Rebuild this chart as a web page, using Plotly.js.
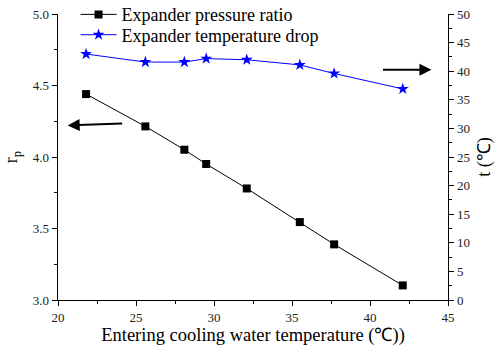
<!DOCTYPE html>
<html><head><meta charset="utf-8">
<script src="https://cdn.plot.ly/plotly-3.0.1.min.js"></script>
<style>html,body{margin:0;padding:0;background:#fff}#c{width:496px;height:349px}</style>
</head><body><div id="c"></div>
<script>
const waterTemp = [21.8, 25.6, 28.1, 29.5, 32.1, 35.5, 37.7, 42.1];
const pressureRatio = [4.44, 4.214, 4.051, 3.951, 3.78, 3.545, 3.389, 3.102];
const tempDrop = [43.0, 41.6, 41.6, 42.2, 42.0, 41.1, 39.6, 36.9];
const seriesNames = ["Expander pressure ratio", "Expander temperature drop"];

const F = "Liberation Serif, Times New Roman, serif";
const traces = [
  {x: waterTemp, y: pressureRatio, name: seriesNames[0], type: "scatter", mode: "lines+markers", legend: "legend",
   line: {color: "#000", width: 1}, marker: {symbol: "square", size: 8, color: "#000"}},
  {x: waterTemp, y: tempDrop, name: seriesNames[1], type: "scatter", mode: "lines+markers", yaxis: "y2", legend: "legend2",
   line: {color: "#0000ff", width: 1}, marker: {symbol: "star", size: 9, color: "#0000ff"}}
];
const axCommon = {showgrid: false, zeroline: false, showline: true, linecolor: "#000", linewidth: 1.3,
  ticks: "outside", ticklen: 5, tickwidth: 1, tickcolor: "#000",
  tickfont: {family: F, size: 13, color: "#222"}};
const legBase = {x: 0.045, xanchor: "left", yanchor: "middle", bgcolor: "rgba(0,0,0,0)",
  font: {family: F, size: 18, color: "#000"}, itemwidth: 36};
const layout = {
  width: 496, height: 349,
  margin: {l: 58, r: 47.5, t: 14, b: 49, autoexpand: false},
  paper_bgcolor: "#fff", plot_bgcolor: "#fff",
  font: {family: F, color: "#000"},
  showlegend: true,
  legend: Object.assign({}, legBase, {y: 0.9976}),
  legend2: Object.assign({}, legBase, {y: 0.9266}),
  xaxis: Object.assign({}, axCommon, {range: [20, 45], dtick: 5, tick0: 20,
    minor: {dtick: 2.5, ticks: "outside", ticklen: 3, tickcolor: "#000"},
    title: {text: "Entering cooling water temperature (℃))", font: {family: F, size: 18.5, color: "#000"}, standoff: 3}}),
  yaxis: Object.assign({}, axCommon, {range: [3.0, 5.0], dtick: 0.5, tick0: 3, tickformat: ".1f",
    minor: {dtick: 0.25, ticks: "outside", ticklen: 3, tickcolor: "#000"},
    title: {text: "r<sub>p</sub>", font: {family: F, size: 18, color: "#000"}, standoff: 10}}),
  yaxis2: Object.assign({}, axCommon, {overlaying: "y", side: "right", range: [0, 50], dtick: 5, tick0: 0,
    minor: {dtick: 2.5, ticks: "outside", ticklen: 3, tickcolor: "#000"},
    title: {text: "t (℃)", font: {family: F, size: 18, color: "#000"}, standoff: 8}}),
  annotations: [
    {x: 20.62, y: 4.221, xref: "x", yref: "y", ax: 56, ay: -2, showarrow: true, arrowhead: 2,
     arrowsize: 1.2, arrowwidth: 2, arrowcolor: "#000", text: ""},
    {x: 43.94, y: 40.26, xref: "x", yref: "y2", ax: -50, ay: 0, showarrow: true, arrowhead: 2,
     arrowsize: 1.2, arrowwidth: 2, arrowcolor: "#000", text: ""}
  ]
};
Plotly.newPlot("c", traces, layout, {displayModeBar: false, staticPlot: true});
</script>
</body></html>
